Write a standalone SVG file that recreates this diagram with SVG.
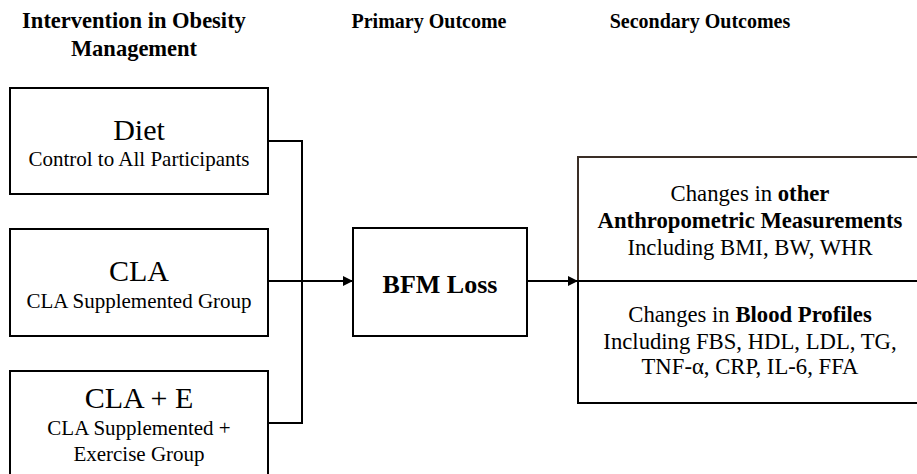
<svg xmlns="http://www.w3.org/2000/svg" width="917" height="474" viewBox="0 0 917 474">
<style>
.box{fill:#fff;stroke:#000;stroke-width:2}
.t{font-family:"Liberation Serif","Times New Roman",serif;fill:#000;text-anchor:middle}
.h{font-weight:bold}
.conn{fill:none;stroke:#000;stroke-width:2}
</style>
<defs>
<marker id="arr" viewBox="0 0 10 10" refX="10" refY="5" markerWidth="10" markerHeight="10" markerUnits="userSpaceOnUse" orient="auto">
<path d="M0,0 L10,5 L0,10 z" fill="#000"/>
</marker>
</defs>
<rect width="917" height="474" fill="#fff"/>
<g id="headers">
<text class="t h" x="134" y="28" font-size="22.5">Intervention in Obesity</text>
<text class="t h" x="134" y="56" font-size="22.5">Management</text>
<text class="t h" x="429" y="28" font-size="20">Primary Outcome</text>
<text class="t h" x="700" y="28" font-size="20">Secondary Outcomes</text>
</g>
<g id="connectors">
<polyline class="conn" points="268,141 302,141 302,423 268,423"/>
<line class="conn" x1="268" y1="281" x2="353" y2="281" marker-end="url(#arr)"/>
<line class="conn" x1="527" y1="281" x2="578" y2="281" marker-end="url(#arr)"/>
</g>
<g id="diet">
<rect class="box" x="10" y="88" width="258" height="106"/>
<text class="t" x="139" y="140" font-size="30">Diet</text>
<text class="t" x="139" y="166" font-size="21">Control to All Participants</text>
</g>
<g id="cla">
<rect class="box" x="10" y="229" width="258" height="107"/>
<text class="t" x="139" y="281" font-size="30">CLA</text>
<text class="t" x="139" y="308" font-size="21">CLA Supplemented Group</text>
</g>
<g id="clae">
<rect class="box" x="10" y="371" width="258" height="115"/>
<text class="t" x="139" y="408" font-size="30">CLA + E</text>
<text class="t" x="139" y="435" font-size="21">CLA Supplemented +</text>
<text class="t" x="139" y="461" font-size="21">Exercise Group</text>
</g>
<g id="bfm">
<rect class="box" x="353" y="228" width="174" height="108"/>
<text class="t h" x="440" y="293" font-size="26">BFM Loss</text>
</g>
<g id="anthro">
<rect class="box" x="578" y="157" width="350" height="124" style="stroke:#3a2e26"/>
<text class="t" x="750" y="201" font-size="22.7">Changes in <tspan font-weight="bold">other</tspan></text>
<text class="t h" x="750" y="228" font-size="22.7">Anthropometric Measurements</text>
<text class="t" x="750" y="255" font-size="22.7">Including BMI, BW, WHR</text>
</g>
<g id="blood">
<rect class="box" x="578" y="281" width="350" height="122"/>
<text class="t" x="750" y="322" font-size="22.7">Changes in <tspan font-weight="bold">Blood Profiles</tspan></text>
<text class="t" x="750" y="349" font-size="22.7">Including FBS, HDL, LDL, TG,</text>
<text class="t" x="750" y="374" font-size="22.7">TNF-α, CRP, IL-6, FFA</text>
</g>
</svg>
